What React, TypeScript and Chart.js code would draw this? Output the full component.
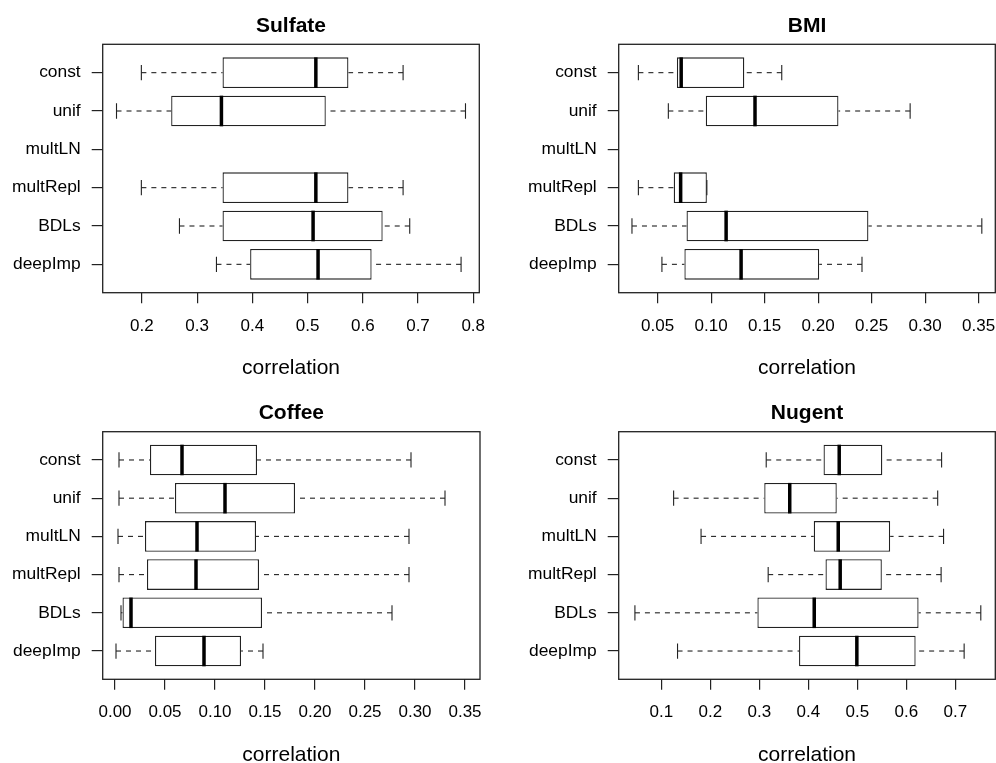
import React, { useEffect, useRef } from "react";
import { Chart, registerables } from "chart.js";

Chart.register(...registerables);

const FONT = "'Liberation Sans', Arial, Helvetica, sans-serif";

// ---------- data ----------
const categories = ["const", "unif", "multLN", "multRepl", "BDLs", "deepImp"];
const categoryPositions = [1, 2, 3, 4, 5, 6];
const xAxisTitle = "correlation";

// Sulfate (multLN missing)
const sulfateLow = [0.199, 0.154, null, 0.199, 0.268, 0.335];
const sulfateQ1 = [0.346, 0.253, null, 0.346, 0.346, 0.396];
const sulfateMedian = [0.515, 0.344, null, 0.515, 0.51, 0.519];
const sulfateQ3 = [0.574, 0.533, null, 0.574, 0.636, 0.616];
const sulfateHigh = [0.673, 0.786, null, 0.673, 0.685, 0.778];
const sulfateTicks = [0.2, 0.3, 0.4, 0.5, 0.6, 0.7, 0.8];

// BMI (multLN missing)
const bmiLow = [0.032, 0.06, null, 0.032, 0.026, 0.054];
const bmiQ1 = [0.068, 0.095, null, 0.065, 0.077, 0.075];
const bmiMedian = [0.072, 0.141, null, 0.0715, 0.114, 0.128];
const bmiQ3 = [0.131, 0.219, null, 0.096, 0.247, 0.201];
const bmiHigh = [0.166, 0.286, null, 0.096, 0.353, 0.241];
const bmiTicks = [0.05, 0.1, 0.15, 0.2, 0.25, 0.3, 0.35];

// Coffee
const coffeeLow = [0.004, 0.004, 0.003, 0.004, 0.006, 0.001];
const coffeeQ1 = [0.035, 0.06, 0.03, 0.032, 0.0075, 0.04];
const coffeeMedian = [0.067, 0.11, 0.082, 0.081, 0.016, 0.089];
const coffeeQ3 = [0.142, 0.18, 0.141, 0.144, 0.147, 0.126];
const coffeeHigh = [0.296, 0.33, 0.294, 0.294, 0.277, 0.148];
const coffeeTicks = [0.0, 0.05, 0.1, 0.15, 0.2, 0.25, 0.3, 0.35];

// Nugent
const nugentLow = [0.314, 0.125, 0.181, 0.318, 0.046, 0.133];
const nugentQ1 = [0.431, 0.31, 0.411, 0.435, 0.296, 0.381];
const nugentMedian = [0.463, 0.362, 0.461, 0.465, 0.412, 0.499];
const nugentQ3 = [0.551, 0.458, 0.567, 0.55, 0.625, 0.619];
const nugentHigh = [0.672, 0.664, 0.676, 0.671, 0.752, 0.718];
const nugentTicks = [0.1, 0.2, 0.3, 0.4, 0.5, 0.6, 0.7];

// ---------- panels (layout + references to data) ----------
type PanelSpec = {
  title: string;
  low: (number | null)[];
  q1: (number | null)[];
  med: (number | null)[];
  q3: (number | null)[];
  high: (number | null)[];
  ticks: number[];
  decimals: number;
  xMin: number;
  xMax: number;
  left: number;
  top: number;
  w: number;
  h: number;
  yWidth: number;
  padRight: number;
  titleTop: number;
  titleBottom: number;
  xHeight: number;
  xTitleBottom: number;
};

const panels: PanelSpec[] = [
  {
    title: "Sulfate", low: sulfateLow, q1: sulfateQ1, med: sulfateMedian, q3: sulfateQ3, high: sulfateHigh,
    ticks: sulfateTicks, decimals: 1, xMin: 0.129, xMax: 0.811,
    left: 0, top: 0, w: 498, h: 381, yWidth: 102.7, padRight: 18.7,
    titleTop: 13.5, titleBottom: 5.6, xHeight: 88.3, xTitleBottom: 0.2,
  },
  {
    title: "BMI", low: bmiLow, q1: bmiQ1, med: bmiMedian, q3: bmiQ3, high: bmiHigh,
    ticks: bmiTicks, decimals: 2, xMin: 0.0136, xMax: 0.3656,
    left: 498, top: 0, w: 498, h: 381, yWidth: 120.7, padRight: 0.7,
    titleTop: 13.5, titleBottom: 5.6, xHeight: 88.3, xTitleBottom: 0.2,
  },
  {
    title: "Coffee", low: coffeeLow, q1: coffeeQ1, med: coffeeMedian, q3: coffeeQ3, high: coffeeHigh,
    ticks: coffeeTicks, decimals: 2, xMin: -0.0123, xMax: 0.365,
    left: 0, top: 381, w: 498, h: 390, yWidth: 102.7, padRight: 18.0,
    titleTop: 19.2, titleBottom: 6.3, xHeight: 91.7, xTitleBottom: 3.2,
  },
  {
    title: "Nugent", low: nugentLow, q1: nugentQ1, med: nugentMedian, q3: nugentQ3, high: nugentHigh,
    ticks: nugentTicks, decimals: 1, xMin: 0.0129, xMax: 0.7816,
    left: 498, top: 381, w: 498, h: 390, yWidth: 120.7, padRight: 0.7,
    titleTop: 19.2, titleBottom: 6.3, xHeight: 91.7, xTitleBottom: 3.2,
  },
];

const LINE = "#222";

function makeBoxPlugin(p: PanelSpec) {
  return {
    id: "rBoxplot",
    beforeDatasetsDraw(chart: any) {
      const { ctx } = chart;
      const x = chart.scales.x;
      const y = chart.scales.y;
      ctx.save();
      ctx.strokeStyle = LINE;
      ctx.lineWidth = 1.1;
      categories.forEach((_, i) => {
        if (p.med[i] == null) return;
        const pos = categoryPositions[i];
        const yc = y.getPixelForValue(pos);
        const yA = y.getPixelForValue(pos - 0.2);
        const yB = y.getPixelForValue(pos + 0.2);
        const xl = x.getPixelForValue(p.low[i]);
        const x1 = x.getPixelForValue(p.q1[i]);
        const x3 = x.getPixelForValue(p.q3[i]);
        const xh = x.getPixelForValue(p.high[i]);
        ctx.setLineDash([5, 5]);
        ctx.beginPath();
        ctx.moveTo(xl, yc);
        ctx.lineTo(x1, yc);
        ctx.stroke();
        ctx.beginPath();
        ctx.moveTo(xh, yc);
        ctx.lineTo(x3, yc);
        ctx.stroke();
        ctx.setLineDash([]);
        ctx.beginPath();
        ctx.moveTo(xl, yA);
        ctx.lineTo(xl, yB);
        ctx.moveTo(xh, yA);
        ctx.lineTo(xh, yB);
        ctx.stroke();
      });
      ctx.restore();
    },
    afterDatasetsDraw(chart: any) {
      const { ctx, chartArea } = chart;
      const x = chart.scales.x;
      const y = chart.scales.y;
      ctx.save();
      ctx.strokeStyle = "#000";
      ctx.lineWidth = 3.5;
      categories.forEach((_, i) => {
        if (p.med[i] == null) return;
        const pos = categoryPositions[i];
        const xm = x.getPixelForValue(p.med[i]);
        ctx.beginPath();
        ctx.moveTo(xm, y.getPixelForValue(pos - 0.4));
        ctx.lineTo(xm, y.getPixelForValue(pos + 0.4));
        ctx.stroke();
      });
      ctx.strokeStyle = LINE;
      ctx.lineWidth = 1.3;
      ctx.strokeRect(
        chartArea.left,
        chartArea.top,
        chartArea.right - chartArea.left,
        chartArea.bottom - chartArea.top
      );
      ctx.restore();
    },
  };
}

function Panel({ p }: { p: PanelSpec }) {
  const ref = useRef<HTMLCanvasElement | null>(null);
  useEffect(() => {
    if (!ref.current) return;
    const boxes = categories
      .map((_, i) => i)
      .filter((i) => p.q1[i] != null)
      .map((i) => ({ x: [p.q1[i], p.q3[i]], y: categoryPositions[i] }));
    const chart = new Chart(ref.current, {
      type: "bar",
      data: {
        datasets: [
          {
            data: boxes as any,
            backgroundColor: "#fff",
            borderColor: LINE,
            borderWidth: 1.3,
            borderSkipped: false,
            barPercentage: 0.8,
            categoryPercentage: 1,
          },
        ],
      },
      options: {
        indexAxis: "y",
        responsive: false,
        animation: false,
        events: [],
        layout: { padding: { left: 0, right: p.padRight, top: 0, bottom: 0 } },
        plugins: {
          legend: { display: false },
          tooltip: { enabled: false },
          title: {
            display: true,
            text: p.title,
            fullSize: false,
            color: "#000",
            font: { family: FONT, size: 21, weight: "bold" },
            padding: { top: p.titleTop, bottom: p.titleBottom },
          },
        },
        scales: {
          x: {
            type: "linear",
            position: "bottom",
            min: p.xMin,
            max: p.xMax,
            offset: false,
            afterBuildTicks: (s: any) => {
              s.ticks = p.ticks.map((v) => ({ value: v }));
            },
            afterFit: (s: any) => {
              s.height = p.xHeight;
              s.paddingLeft = 0;
              s.paddingRight = 0;
            },
            ticks: {
              autoSkip: false,
              maxRotation: 0,
              color: "#000",
              font: { family: FONT, size: 17 },
              padding: 12.6,
              callback: (v: any) => Number(v).toFixed(p.decimals),
            },
            grid: {
              display: true,
              offset: false,
              drawOnChartArea: false,
              drawTicks: true,
              tickLength: 10.5,
              color: LINE,
              lineWidth: 1.2,
            },
            border: { display: false },
            title: {
              display: true,
              text: xAxisTitle,
              color: "#000",
              font: { family: FONT, size: 21 },
              padding: { top: 0, bottom: p.xTitleBottom },
            },
          },
          y: {
            type: "linear",
            position: "left",
            min: 0.26,
            max: 6.74,
            reverse: true,
            offset: false,
            afterBuildTicks: (s: any) => {
              s.ticks = categoryPositions.map((v) => ({ value: v }));
            },
            afterFit: (s: any) => {
              s.width = p.yWidth;
              s.paddingTop = 0;
              s.paddingBottom = 0;
            },
            ticks: {
              autoSkip: false,
              color: "#000",
              font: { family: FONT, size: 17.4 },
              padding: 11,
              callback: (v: any) => categories[Math.round(Number(v)) - 1],
            },
            grid: {
              display: true,
              offset: false,
              drawOnChartArea: false,
              drawTicks: true,
              tickLength: 11,
              color: LINE,
              lineWidth: 1.2,
            },
            border: { display: false },
          },
        },
      } as any,
      plugins: [makeBoxPlugin(p)],
    });
    return () => chart.destroy();
  }, [p]);
  return (
    <canvas
      ref={ref}
      width={p.w}
      height={p.h}
      style={{ position: "absolute", left: p.left, top: p.top, width: p.w, height: p.h }}
    />
  );
}

export default function App() {
  return (
    <div
      style={{
        position: "absolute",
        left: 0,
        top: 0,
        width: 996,
        height: 763,
        overflow: "hidden",
        background: "#fff",
      }}
    >
      {panels.map((p) => (
        <Panel key={p.title} p={p} />
      ))}
    </div>
  );
}
